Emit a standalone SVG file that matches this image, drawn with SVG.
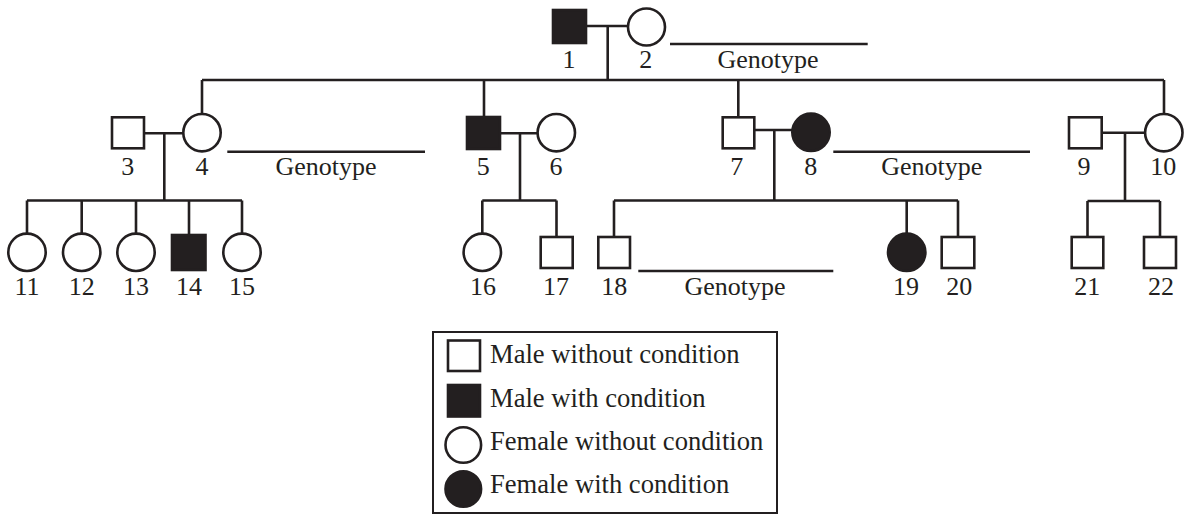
<svg xmlns="http://www.w3.org/2000/svg" width="1186" height="515" viewBox="0 0 1186 515">
<style>
.ln{stroke:#231f20;stroke-width:2.6;fill:none}
.o{fill:#fff;stroke:#231f20;stroke-width:2.6}
.f{fill:#231f20;stroke:#231f20;stroke-width:2.6}
text{font-family:"Liberation Serif","Times New Roman",serif;font-size:26px;fill:#231f20}
.c{text-anchor:middle}
.lg{font-size:26.6px}
</style>
<rect width="1186" height="515" fill="#fff"/>
<g id="connectors" class="ln">
<path d="M586 26H627M607.7 26V80M202 80H1164M202 80V114M484 80V117M738.3 80V117M1164 80V114"/>
<path d="M144 133.3H183M164.3 133.3V200.5M27 200.5H242M27 200.5V233M81.7 200.5V233M136 200.5V233M189 200.5V235M242 200.5V233"/>
<path d="M500 133.3H538M520 133.3V200.5M482.3 200.5H556.5M482.3 200.5V233M556.5 200.5V237"/>
<path d="M754.3 130H792M774.3 130V200.5M614 200.5H958M614 200.5V237M906.7 200.5V233M958 200.5V237"/>
<path d="M1101.7 132.7H1145M1125 132.7V201M1087.5 201H1160M1087.5 201V237M1160 201V237"/>
</g>
<g id="genotype-lines" class="ln">
<path d="M670 44H867.7M227.3 151.7H425M833.3 151.7H1030M638.3 271H833.3"/>
</g>
<g id="n1"><rect class="f" x="553" y="10" width="33" height="33"/><text class="c" x="569" y="68">1</text></g>
<g id="n2"><circle class="o" cx="646.5" cy="27" r="18.5"/><text class="c" x="645.7" y="68">2</text></g>
<g id="g1"><text class="c" x="768" y="68">Genotype</text></g>
<g id="n3"><rect class="o" x="112" y="117.3" width="32" height="31"/><text class="c" x="127.7" y="175">3</text></g>
<g id="n4"><circle class="o" cx="202" cy="132.7" r="18.7"/><text class="c" x="202" y="175">4</text></g>
<g id="g2"><text class="c" x="326" y="175">Genotype</text></g>
<g id="n5"><rect class="f" x="467" y="117" width="33" height="32"/><text class="c" x="483.3" y="175">5</text></g>
<g id="n6"><circle class="o" cx="556.3" cy="132.7" r="18.7"/><text class="c" x="556" y="175">6</text></g>
<g id="n7"><rect class="o" x="722.7" y="117.3" width="31.6" height="31"/><text class="c" x="736.7" y="175">7</text></g>
<g id="n8"><circle class="f" cx="811" cy="132.3" r="18.7"/><text class="c" x="810.7" y="175">8</text></g>
<g id="g3"><text class="c" x="931.7" y="175">Genotype</text></g>
<g id="n9"><rect class="o" x="1069" y="117.3" width="32.7" height="31"/><text class="c" x="1084" y="175">9</text></g>
<g id="n10"><circle class="o" cx="1163.8" cy="132.7" r="18.7"/><text class="c" x="1163.3" y="175">10</text></g>
<g id="n11"><circle class="o" cx="27" cy="252.3" r="18.7"/><text class="c" x="27" y="295">11</text></g>
<g id="n12"><circle class="o" cx="81.7" cy="252.3" r="18.7"/><text class="c" x="81.7" y="295">12</text></g>
<g id="n13"><circle class="o" cx="136" cy="252.3" r="18.7"/><text class="c" x="136" y="295">13</text></g>
<g id="n14"><rect class="f" x="172" y="235" width="33.5" height="35"/><text class="c" x="189" y="295">14</text></g>
<g id="n15"><circle class="o" cx="242" cy="252.3" r="18.7"/><text class="c" x="242" y="295">15</text></g>
<g id="n16"><circle class="o" cx="482.3" cy="252.3" r="18.7"/><text class="c" x="483" y="295">16</text></g>
<g id="n17"><rect class="o" x="540.7" y="237" width="32" height="31"/><text class="c" x="556" y="295">17</text></g>
<g id="n18"><rect class="o" x="598.3" y="237" width="31.7" height="31"/><text class="c" x="614.3" y="295">18</text></g>
<g id="g4"><text class="c" x="735" y="295">Genotype</text></g>
<g id="n19"><circle class="f" cx="906.7" cy="252.3" r="18.7"/><text class="c" x="906" y="295">19</text></g>
<g id="n20"><rect class="o" x="941.7" y="237" width="32.6" height="31"/><text class="c" x="959.3" y="295">20</text></g>
<g id="n21"><rect class="o" x="1071.7" y="237" width="31.6" height="31"/><text class="c" x="1087.3" y="295">21</text></g>
<g id="n22"><rect class="o" x="1144" y="237" width="32" height="31"/><text class="c" x="1161" y="295">22</text></g>
<g id="legend">
<rect x="433" y="332" width="344" height="181" fill="#fff" stroke="#231f20" stroke-width="2"/>
<rect class="o" x="448" y="340.5" width="32" height="30.5"/>
<text class="lg" x="490" y="363.3">Male without condition</text>
<rect class="f" x="448" y="385" width="32" height="31.5"/>
<text class="lg" x="490" y="406.7">Male with condition</text>
<circle class="o" cx="463.3" cy="445" r="17.8"/>
<text class="lg" x="490" y="450">Female without condition</text>
<circle class="f" cx="463.3" cy="489" r="17.8"/>
<text class="lg" x="490" y="493.3">Female with condition</text>
</g>
</svg>
